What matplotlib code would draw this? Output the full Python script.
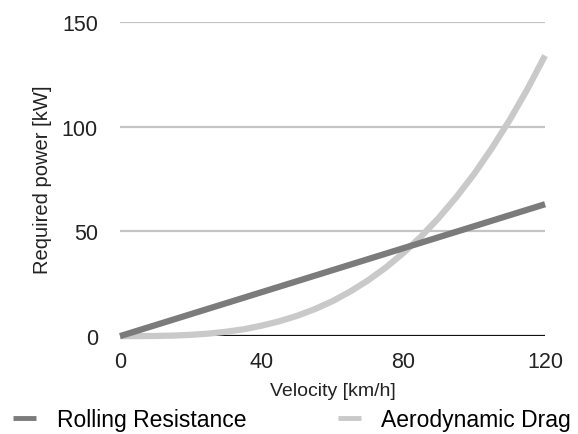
import matplotlib
matplotlib.use("Agg")
import matplotlib.pyplot as plt

velocity_rolling = [0, 20, 40, 60, 80, 100, 120]
power_rolling = [0, 10.5, 21, 31.5, 42, 52.5, 63]

velocity_drag = [0, 5, 10, 15, 20, 25, 30, 35, 40, 45, 50, 55, 60,
                 65, 70, 75, 80, 85, 90, 95, 100, 105, 110, 115, 120]
power_drag = [0, 0.01, 0.08, 0.26, 0.62, 1.2, 2.1, 3.3, 5.0, 7.1, 9.7, 12.9, 16.7,
              21.3, 26.6, 32.7, 39.7, 47.6, 56.5, 66.5, 77.5, 89.8, 103.2, 117.9, 134]

x_ticks = [0, 40, 80, 120]
y_ticks = [0, 50, 100, 150]

plt.rcParams['font.family'] = ['Liberation Sans', 'DejaVu Sans']

fig = plt.figure(figsize=(5.78, 4.35), dpi=100)
fig.patch.set_facecolor('white')
ax = fig.add_axes([0.2076, 0.225, 0.7354, 0.722])

# grid lines
for yv in y_ticks[1:]:
    ax.axhline(yv, color='#c4c4c4', linewidth=1.6, zorder=1)
ax.axhline(0, color='#111111', linewidth=1.6, zorder=2)

ax.plot(velocity_drag, power_drag, color='#c9c9c9', linewidth=4.5,
        solid_capstyle='butt', label='Aerodynamic Drag', zorder=3, clip_on=False)
ax.plot(velocity_rolling, power_rolling, color='#7b7b7b', linewidth=4.5,
        solid_capstyle='butt', label='Rolling Resistance', zorder=4, clip_on=False)

ax.set_xlim(0, 120)
ax.set_ylim(0, 150)
ax.set_xticks(x_ticks)
ax.set_yticks(y_ticks)
ax.tick_params(axis='both', length=0, labelsize=15.5, colors='#222222')
ax.tick_params(axis='x', pad=11)
ax.tick_params(axis='y', pad=16)
for s in ax.spines.values():
    s.set_visible(False)

ax.set_xlabel('Velocity [km/h]', fontsize=14, color='#222222', labelpad=7)
ax.set_ylabel('Required power [kW]', fontsize=14.5, color='#222222', labelpad=7)

handles, labels = ax.get_legend_handles_labels()
leg = fig.legend(handles[::-1], labels[::-1], loc='lower left', bbox_to_anchor=(-0.013, -0.04),
                 ncol=2, frameon=False, fontsize=16.5, handlelength=1.0, handletextpad=0.9,
                 columnspacing=4.0)
for h in leg.legend_handles:
    h.set_linewidth(3.5)

fig.savefig('out.png', dpi=100)
